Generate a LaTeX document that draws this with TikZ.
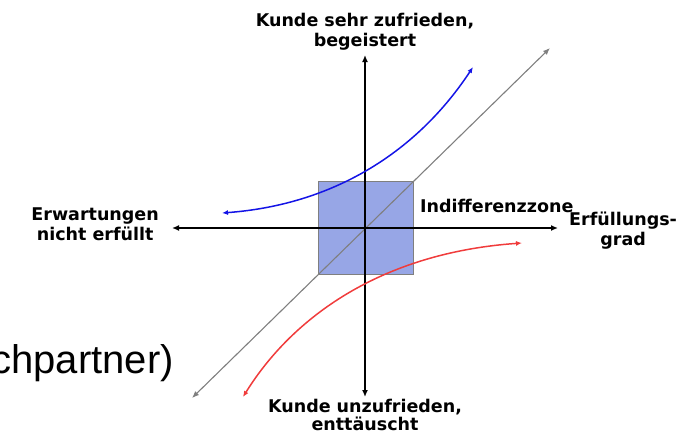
\documentclass[tikz,border=0pt]{standalone}
\usepackage{fontspec}
\setmainfont{DejaVu Sans}
\newfontfamily\arialfont{Liberation Sans}
\usetikzlibrary{arrows.meta, positioning}
\definecolor{czone}{HTML}{97A6E6}
\definecolor{cblue}{HTML}{1414E6}
\definecolor{cred}{HTML}{F03C3C}
\definecolor{cgrey}{HTML}{7F7F7F}
\tikzset{
  every picture/.style={font=\bfseries\fontsize{17.5}{20}\selectfont},
  axis/.style={{Latex[length=7pt,width=6pt]}-{Latex[length=7pt,width=6pt]}, draw=black, line width=2pt},
  diag/.style={{Latex[length=7pt,width=5.5pt]}-{Latex[length=7pt,width=5.5pt]}, draw=cgrey, line width=1.1pt},
  curve/.style={{Latex[length=6pt,width=5pt]}-{Latex[length=6pt,width=5pt]}, draw=#1, line width=1.5pt},
  label/.style={align=center, inner sep=0pt},
}

\begin{document}
\begin{tikzpicture}[x=1pt, y=-1pt]
  \useasboundingbox (0,0) rectangle (687,437);
  % end points
  \coordinate (ytop) at (365,55);  \coordinate (ybot) at (365,397);
  \coordinate (xleft) at (172,228); \coordinate (xright) at (558,228);
  \coordinate (dlow) at (192,398); \coordinate (dhigh) at (550,48);
  \coordinate (b1) at (222,213); \coordinate (b2) at (473,67);
  \coordinate (r1) at (243,397); \coordinate (r2) at (522,243);
  % indifference zone
  \node[draw=cgrey, fill=czone, line width=0.6pt, minimum width=95pt, minimum height=93pt, inner sep=0pt] (zone) at (365.5,227.5) {};
  \draw[diag] (dlow) -- (dhigh);
  \draw[axis] (xleft) -- (xright);
  \draw[axis] (ybot) -- (ytop);
  \draw[curve=cblue] (b1) .. controls (330,205) and (415,155) .. (b2);
  \draw[curve=cred] (r1) .. controls (292,318) and (380,253) .. (r2);
  % labels
  \node[label, above=5pt of ytop] (happy) {Kunde sehr zufrieden,\\begeistert};
  \node[label, below=2pt of ybot, font=\bfseries\fontsize{17.5}{18}\selectfont] (unhappy) {Kunde unzufrieden,\\enttäuscht};
  \node[label, left=13pt of xleft, yshift=4pt] (expect) {Erwartungen\\nicht erfüllt};
  \node[label, right=11pt of xright, yshift=-3pt] (degree) {Erfüllungs-\\grad};
  \node[label, anchor=base west] (zonetext) at (420,212) {Indifferenzzone};
  \node[inner sep=0pt, anchor=base east, font=\arialfont\mdseries\fontsize{40}{48}\selectfont] (partner) at (174,373) {chpartner)};
\end{tikzpicture}
\end{document}
